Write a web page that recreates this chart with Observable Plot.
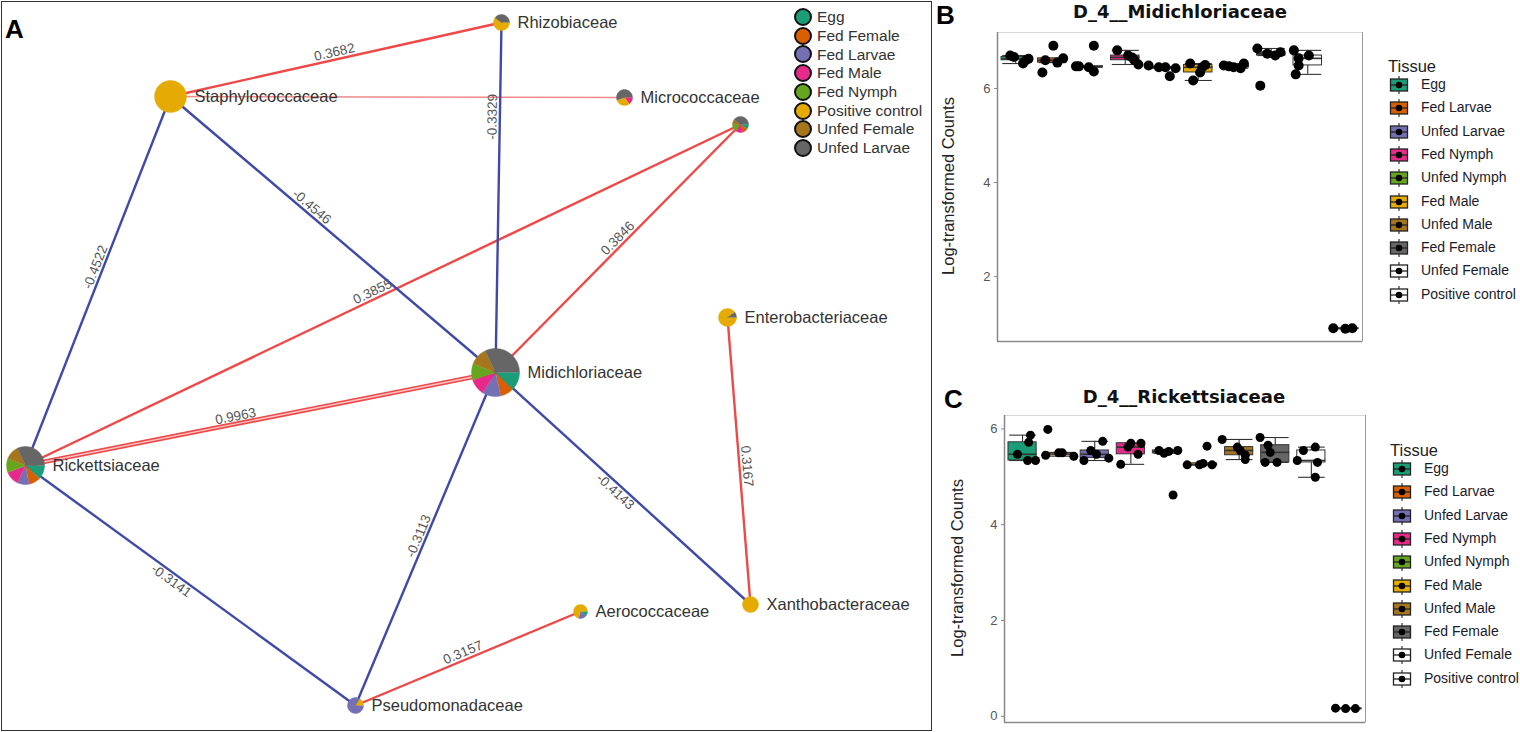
<!DOCTYPE html>
<html><head><meta charset="utf-8">
<script src="https://cdn.jsdelivr.net/npm/d3@7"></script>
<script src="https://cdn.jsdelivr.net/npm/@observablehq/plot@0.6"></script>
<style>
html,body{margin:0;padding:0;background:#fff;}
body{width:1520px;height:732px;overflow:hidden;position:relative;font-family:"Liberation Sans",Arial,sans-serif;}
.abs{position:absolute;}
.plbl{position:absolute;font-weight:bold;font-size:26px;color:#000;line-height:1;}
.ttl{position:absolute;font-family:"DejaVu Sans",sans-serif;font-weight:bold;font-size:18px;color:#111;white-space:nowrap;transform:translateX(-50%);line-height:1;}
.ytl{position:absolute;font-size:16.5px;color:#222;white-space:nowrap;transform:translate(-50%,-50%) rotate(-90deg);line-height:1;}
.lgrow{position:absolute;white-space:nowrap;line-height:1;}
</style></head><body>
<script>
// ---------------- Panel A data (network) ----------------
const aTissues = ["Egg","Fed Female","Fed Larvae","Fed Male","Fed Nymph","Positive control","Unfed Female","Unfed Larvae"];
const aColors  = ["#1b9e77","#d95f02","#7570b3","#e7298a","#66a61e","#e6ab02","#a6761d","#666666"];

const nodeIds    = ["Rhizobiaceae","Staphylococcaceae","Micrococcaceae","Unlabelled","Enterobacteriaceae","Midichloriaceae","Rickettsiaceae","Xanthobacteraceae","Aerococcaceae","Pseudomonadaceae"];
const nodeLabels = ["Rhizobiaceae","Staphylococcaceae","Micrococcaceae","","Enterobacteriaceae","Midichloriaceae","Rickettsiaceae","Xanthobacteraceae","Aerococcaceae","Pseudomonadaceae"];
// layout coordinates of the network
const nodeX    = [501,170,624,740,727,495,25,750,580,355];
const nodeY    = [22,96,97,124,317,372,465,604,611,705];
const nodeSize = [8,16,8,8,9,24,19,8,7,8];
// pie shares in aTissues order
const pieShares = [
  [0,0,0,0,0,0.6,0,0.4],
  [0,0,0,0,0,1,0,0],
  [0,0,0,0.15,0,0.3,0,0.55],
  [0.1,0.1,0,0.15,0.15,0,0.1,0.4],
  [0,0,0,0,0,0.9,0,0.1],
  [0.125,0.09,0.125,0.11,0.11,0,0.12,0.32],
  [0.12,0.1,0.1,0.12,0.12,0,0.12,0.32],
  [0,0,0,0,0,1,0,0],
  [0.1,0,0.2,0,0,0.7,0,0],
  [0,0,0.85,0,0,0.15,0,0]
];
const edgeFrom   = ["Staphylococcaceae","Staphylococcaceae","Midichloriaceae","Staphylococcaceae","Rickettsiaceae","Rickettsiaceae","Midichloriaceae","Rickettsiaceae","Enterobacteriaceae","Xanthobacteraceae","Pseudomonadaceae","Pseudomonadaceae","Pseudomonadaceae"];
const edgeTo     = ["Rhizobiaceae","Micrococcaceae","Rhizobiaceae","Midichloriaceae","Staphylococcaceae","Unlabelled","Unlabelled","Midichloriaceae","Xanthobacteraceae","Midichloriaceae","Midichloriaceae","Rickettsiaceae","Aerococcaceae"];
const edgeWeight = [0.3682,null,-0.3329,-0.4546,-0.4522,0.3855,0.3846,0.9963,0.3167,-0.4143,-0.3113,-0.3141,0.3157];
const edgeSign   = [1,1,-1,-1,-1,1,1,1,1,-1,-1,-1,1];
const edgeLabelAt= [0.5,0.5,0.73,0.42,0.53,0.49,0.52,0.45,0.52,0.51,0.5,0.545,0.49];

// ---------------- Panel B / C data (box plots) ----------------
const bTissues = ["Egg","Fed Larvae","Unfed Larvae","Fed Nymph","Unfed Nymph","Fed Male","Unfed Male","Fed Female","Unfed Female","Positive control"];
const bColors  = ["#1b9e77","#d95f02","#7570b3","#e7298a","#66a61e","#e6ab02","#a6761d","#666666","#ffffff","#ffffff"];

const midiValues = [
  [6.70,6.67,6.53,6.63,6.60],
  [6.91,6.34,6.60,6.55,6.64],
  [6.91,6.47,6.36,6.47,6.45],
  [6.81,6.70,6.66,6.60,6.51],
  [6.49,6.45,6.26,6.43,6.45],
  [6.53,6.45,6.34,6.17,6.50],
  [6.49,6.45,6.43,6.53,6.47],
  [6.85,6.70,6.77,6.06,6.74],
  [6.81,6.64,6.70,6.49,6.30],
  [0.90,0.89,0.90]
];
const midiJitter = [
  [-0.15,-0.05,0.2,0.35,0.28],
  [0.03,-0.27,-0.19,0.14,0.3],
  [0.14,-0.27,0.14,-0.35,0.0],
  [-0.22,0.08,0.19,0.25,0.36],
  [-0.36,-0.08,0.22,0.38,0.1],
  [-0.22,0.11,0.05,-0.14,0.19],
  [-0.3,-0.03,0.16,0.25,-0.16],
  [-0.38,0.11,0.25,-0.3,-0.11],
  [-0.38,-0.25,0.03,-0.25,-0.33],
  [-0.3,0.03,0.22]
];
const rickValues = [
  [5.87,5.72,5.47,5.34,5.34],
  [5.99,5.45,5.43,5.50,5.50],
  [5.74,5.55,5.34,5.39,5.47],
  [5.70,5.70,5.47,5.26,5.62],
  [5.49,5.55,4.62,5.55,5.53],
  [5.64,5.25,5.25,5.25,5.28],
  [5.78,5.62,5.45,5.36,5.55],
  [5.82,5.66,5.51,5.30,5.30],
  [5.62,5.55,5.34,5.30,4.99],
  [0.17,0.16,0.16]
];
const rickJitter = [
  [0.22,0.17,-0.14,0.14,0.36],
  [-0.3,-0.36,0.42,0.0,0.1],
  [0.22,-0.11,-0.3,0.39,0.05],
  [0.0,0.28,0.2,-0.28,-0.08],
  [-0.08,0.3,0.17,-0.22,0.05],
  [0.11,-0.44,0.25,-0.1,0.0],
  [-0.47,-0.05,0.17,0.17,0.03],
  [-0.42,-0.2,-0.14,-0.28,0.05],
  [0.11,-0.22,-0.39,0.17,0.11],
  [-0.33,-0.05,0.22]
];
const midiTicks = [2,4,6];
const rickTicks = [0,2,4,6];

// ---------------- helpers ----------------
const body = d3.select("body");
function place(node, left, top){
  const d = body.append("div").attr("class","abs").style("left",left+"px").style("top",top+"px");
  d.node().appendChild(node);
  return d;
}

// ---------------- Panel A ----------------
const nodes = nodeIds.map((id,i)=>({id,label:nodeLabels[i],x:nodeX[i],y:nodeY[i],r:nodeSize[i]}));
const byId = Object.fromEntries(nodes.map(n=>[n.id,n]));
const edges = edgeFrom.map((f,i)=>{
  const a = byId[f], b = byId[edgeTo[i]];
  const phi = Math.atan2(b.y-a.y, b.x-a.x);
  const t = edgeLabelAt[i], off = 7.5;
  let deg = phi*180/Math.PI;
  if (deg > 90) deg -= 180; else if (deg <= -90) deg += 180;
  return {x1:a.x,y1:a.y,x2:b.x,y2:b.y,sign:edgeSign[i],w:edgeWeight[i],
    lx:a.x+(b.x-a.x)*t+Math.sin(phi)*off, ly:a.y+(b.y-a.y)*t-Math.cos(phi)*off,
    angle:deg, label: edgeWeight[i]==null ? "" : String(edgeWeight[i])};
});
const wedges = [];
nodes.forEach((n,i)=>{
  let a0 = 0;
  pieShares[i].forEach((s,k)=>{
    if (!s) return;
    const a1 = a0 + s*2*Math.PI, id = i+"-"+k, tissue = aTissues[k];
    if (s < 1) wedges.push({id,tissue,x:n.x,y:n.y});
    const steps = Math.max(3, Math.ceil((a1-a0)/(Math.PI/90)));
    for (let j=0;j<=steps;j++){
      const a = a0+(a1-a0)*j/steps;
      wedges.push({id,tissue,x:n.x+n.r*Math.cos(a),y:n.y+n.r*Math.sin(a)});
    }
    a0 = a1;
  });
});
const RED = "#ef4848", BLUE = "#3f49a8";
const strong = e => e.w != null && Math.abs(e.w) > 0.9;
const plotA = Plot.plot({
  width:930, height:732, margin:0,
  style:{fontFamily:"Liberation Sans, Arial, sans-serif", background:"transparent", overflow:"visible"},
  x:{domain:[0,930], range:[0,930], axis:null},
  y:{domain:[0,732], range:[0,732], axis:null},
  color:{domain:aTissues, range:aColors},
  marks:[
    Plot.link(edges.filter(e=>e.sign>0 && e.w!=null && !strong(e)), {x1:"x1",y1:"y1",x2:"x2",y2:"y2",stroke:RED,strokeWidth:2.4}),
    Plot.link(edges.filter(strong), {x1:"x1",y1:"y1",x2:"x2",y2:"y2",stroke:RED,strokeWidth:4.6}),
    Plot.link(edges.filter(strong), {x1:"x1",y1:"y1",x2:"x2",y2:"y2",stroke:"#f9c4c4",strokeWidth:1.3}),
    Plot.link(edges.filter(e=>e.w==null), {x1:"x1",y1:"y1",x2:"x2",y2:"y2",stroke:"#f08a8a",strokeWidth:1.6}),
    Plot.link(edges.filter(e=>e.sign<0), {x1:"x1",y1:"y1",x2:"x2",y2:"y2",stroke:BLUE,strokeWidth:2.4}),
    Plot.text(edges.filter(e=>e.label), {x:"lx",y:"ly",text:"label",rotate:"angle",fontSize:13.5,fill:"#555"}),
    Plot.line(wedges, {x:"x",y:"y",z:"id",fill:"tissue",stroke:"tissue",strokeWidth:0.4,curve:"linear"}),
    Plot.text(nodes.filter(n=>n.label), {x:d=>d.x+d.r+8,y:"y",text:"label",textAnchor:"start",fontSize:16.5,fill:"#333"})
  ]
});
place(plotA, 0, 0);
body.append("div").attr("class","abs").style("left","1px").style("top","1px").style("width","929px").style("height","728px")
  .style("border","1.5px solid #333").style("pointer-events","none");
body.append("div").attr("class","plbl").style("left","5px").style("top","16px").text("A");

// legend A
aTissues.forEach((t,k)=>{
  const row = body.append("div").attr("class","lgrow").style("left","794px").style("top",(8+k*18.7)+"px");
  row.append("span").style("display","inline-block").style("width","14px").style("height","14px").style("border-radius","50%")
    .style("background",aColors[k]).style("border","2.3px solid #111").style("vertical-align","middle");
  row.append("span").style("font-size","15.5px").style("color","#333").style("margin-left","5px").style("vertical-align","middle").text(t);
});

// ---------------- Panels B and C ----------------
function boxPanel(values, jitter, yDomain, ticks, width, height, mL, mT, mB, dotR){
  const pts = [], stats = [];
  bTissues.forEach((t,k)=>{
    values[k].forEach((v,j)=>pts.push({x:k+1+jitter[k][j], v}));
    const s = values[k].slice().sort(d3.ascending);
    const q1 = d3.quantile(s,0.25), q2 = d3.quantile(s,0.5), q3 = d3.quantile(s,0.75), iqr = q3-q1;
    const lo = d3.min(s.filter(v=>v>=q1-1.5*iqr)), hi = d3.max(s.filter(v=>v<=q3+1.5*iqr));
    stats.push({i:k+1, tissue:t, q1, q2, q3, lo, hi});
  });
  const bw = 0.39, cw = 0.37;
  return Plot.plot({
    width, height, marginLeft:mL, marginRight:1, marginTop:mT, marginBottom:mB,
    style:{fontFamily:"Liberation Sans, Arial, sans-serif", fontSize:"13px", color:"#555", background:"transparent", overflow:"visible"},
    x:{domain:[0.5,10.5], axis:null},
    y:{domain:yDomain, axis:null},
    color:{domain:bTissues, range:bColors},
    marks:[
      Plot.frame({stroke:"#d8d8d8"}),
      Plot.ruleX([10.5], {stroke:"#999"}),
      Plot.ruleX(stats, {x:"i", y1:"lo", y2:"hi", stroke:"#333", strokeWidth:1.1}),
      Plot.link(stats, {x1:d=>d.i-cw, x2:d=>d.i+cw, y1:"lo", y2:"lo", stroke:"#333", strokeWidth:1.1}),
      Plot.link(stats, {x1:d=>d.i-cw, x2:d=>d.i+cw, y1:"hi", y2:"hi", stroke:"#333", strokeWidth:1.1}),
      Plot.rect(stats, {x1:d=>d.i-bw, x2:d=>d.i+bw, y1:"q1", y2:"q3", fill:"tissue", stroke:"#333", strokeWidth:1}),
      Plot.link(stats, {x1:d=>d.i-bw, x2:d=>d.i+bw, y1:"q2", y2:"q2", stroke:"#333", strokeWidth:1.6}),
      Plot.dot(pts, {x:"x", y:"v", r:dotR, fill:"#000", stroke:"none"}),
      Plot.ruleX([0.5], {stroke:"#888", strokeWidth:1.5}),
      Plot.ruleY([yDomain[0]], {stroke:"#888", strokeWidth:1.5}),
      Plot.axisY({ticks, tickFormat:d3.format("d"), tickSize:3, tickPadding:4, stroke:"#888", fill:"#555", fontSize:13})
    ]
  });
}
const plotB = boxPanel(midiValues, midiJitter, [0.62,7.19], midiTicks, 428, 315, 62, 4, 2, 5);
place(plotB, 935, 28);
const plotC = boxPanel(rickValues, rickJitter, [-0.13,6.28], rickTicks, 431, 319, 69, 10, 2, 4.5);
place(plotC, 935, 405);

body.append("div").attr("class","plbl").style("left","936px").style("top","2px").text("B");
body.append("div").attr("class","plbl").style("left","944px").style("top","386px").text("C");
body.append("div").attr("class","ttl").style("left","1180px").style("top","3px").text("D_4__Midichloriaceae");
body.append("div").attr("class","ttl").style("left","1184px").style("top","388px").text("D_4__Rickettsiaceae");
body.append("div").attr("class","ytl").style("left","948px").style("top","186px").text("Log-transformed Counts");
body.append("div").attr("class","ytl").style("left","957px").style("top","568px").text("Log-transformed Counts");

function tissueLegend(left, top, keyLeft){
  body.append("div").attr("class","abs").style("left",left+"px").style("top",top+"px")
    .style("font-size","16.5px").style("color","#222").style("line-height","1").text("Tissue");
  bTissues.forEach((t,k)=>{
    const y = top + 27 + k*23.3;
    const svg = body.append("svg").attr("class","abs").style("left",keyLeft+"px").style("top",(y-10)+"px")
      .attr("width",22).attr("height",20);
    svg.append("line").attr("x1",10).attr("x2",10).attr("y1",1).attr("y2",19).attr("stroke","#333").attr("stroke-width",1.2);
    svg.append("rect").attr("x",1.5).attr("y",4).attr("width",17).attr("height",12).attr("fill",bColors[k]).attr("stroke","#222").attr("stroke-width",1.3);
    svg.append("line").attr("x1",1.5).attr("x2",18.5).attr("y1",10).attr("y2",10).attr("stroke","#222").attr("stroke-width",1.3);
    svg.append("circle").attr("cx",10).attr("cy",10).attr("r",3.3).attr("fill","#000");
    body.append("div").attr("class","abs").style("left",(keyLeft+32)+"px").style("top",(y-8)+"px")
      .style("font-size","14px").style("color","#1a1a2a").style("line-height","1").style("white-space","nowrap").text(t);
  });
}
tissueLegend(1388, 58, 1389);
tissueLegend(1390, 442, 1392);
</script>
</body></html>
